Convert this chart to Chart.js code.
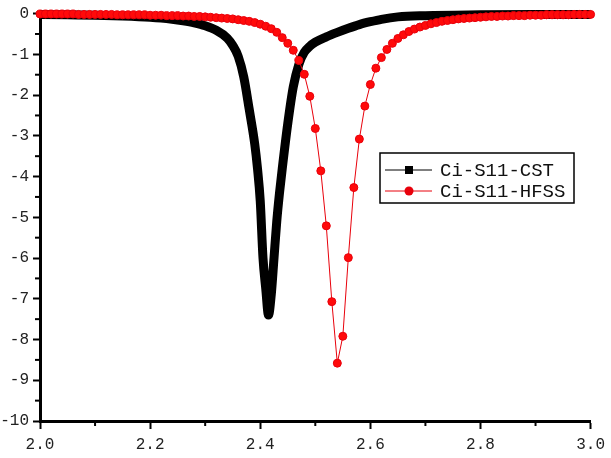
<!DOCTYPE html>
<html>
<head>
<meta charset="utf-8">
<script src="https://cdn.jsdelivr.net/npm/chart.js@4"></script>
<style>
    body { margin: 0; background: #fff; }
    #wrap { width: 611px; height: 458px; }
</style>
</head>
<body>
<div id="wrap"><canvas id="myChart" width="611" height="458"></canvas></div>
<script>
// CST curve (frequency in GHz, S11 in dB)
const cstFreq = [
    2.00, 2.05, 2.10, 2.15, 2.20, 2.22, 2.24, 2.26, 2.28, 2.30,
    2.32, 2.34, 2.35, 2.36, 2.37, 2.38, 2.39, 2.395, 2.40, 2.405,
    2.41, 2.415, 2.42, 2.425, 2.43, 2.435, 2.44, 2.45, 2.46, 2.47,
    2.48, 2.49, 2.50, 2.52, 2.54, 2.56, 2.58, 2.60, 2.62, 2.65,
    2.70, 2.80, 2.90, 3.00,
];
const cstS11 = [
    -0.02, -0.03, -0.04, -0.06, -0.09, -0.11, -0.14, -0.18, -0.23, -0.30,
    -0.41, -0.60, -0.78, -1.05, -1.55, -2.35, -3.20, -3.80, -4.60, -6.00,
    -6.75, -7.40, -6.90, -6.00, -5.10, -4.40, -3.80, -2.70, -1.80, -1.25,
    -0.95, -0.80, -0.70, -0.57, -0.46, -0.36, -0.27, -0.20, -0.14, -0.08,
    -0.05, -0.03, -0.02, -0.02,
];

// HFSS curve, one point every 10 MHz
const hfssFreq = [
    2.00, 2.01, 2.02, 2.03, 2.04, 2.05, 2.06, 2.07, 2.08, 2.09,
    2.10, 2.11, 2.12, 2.13, 2.14, 2.15, 2.16, 2.17, 2.18, 2.19,
    2.20, 2.21, 2.22, 2.23, 2.24, 2.25, 2.26, 2.27, 2.28, 2.29,
    2.30, 2.31, 2.32, 2.33, 2.34, 2.35, 2.36, 2.37, 2.38, 2.39,
    2.40, 2.41, 2.42, 2.43, 2.44, 2.45, 2.46, 2.47, 2.48, 2.49,
    2.50, 2.51, 2.52, 2.53, 2.54, 2.55, 2.56, 2.57, 2.58, 2.59,
    2.60, 2.61, 2.62, 2.63, 2.64, 2.65, 2.66, 2.67, 2.68, 2.69,
    2.70, 2.71, 2.72, 2.73, 2.74, 2.75, 2.76, 2.77, 2.78, 2.79,
    2.80, 2.81, 2.82, 2.83, 2.84, 2.85, 2.86, 2.87, 2.88, 2.89,
    2.90, 2.91, 2.92, 2.93, 2.94, 2.95, 2.96, 2.97, 2.98, 2.99,
    3.00,
];
const hfssS11 = [
    -0.01, -0.01, -0.01, -0.01, -0.01, -0.01, -0.01, -0.02, -0.02, -0.02,
    -0.02, -0.02, -0.02, -0.02, -0.03, -0.03, -0.03, -0.03, -0.03, -0.03,
    -0.04, -0.04, -0.04, -0.05, -0.05, -0.05, -0.06, -0.06, -0.07, -0.07,
    -0.08, -0.09, -0.10, -0.11, -0.12, -0.13, -0.15, -0.17, -0.19, -0.22,
    -0.26, -0.31, -0.37, -0.46, -0.59, -0.73, -0.90, -1.15, -1.49, -2.03,
    -2.82, -3.86, -5.21, -7.07, -8.58, -7.92, -5.99, -4.27, -3.08, -2.27,
    -1.74, -1.34, -1.08, -0.88, -0.73, -0.61, -0.52, -0.44, -0.38, -0.33,
    -0.29, -0.25, -0.22, -0.19, -0.17, -0.15, -0.13, -0.12, -0.11, -0.10,
    -0.09, -0.08, -0.07, -0.07, -0.06, -0.06, -0.05, -0.05, -0.05, -0.04,
    -0.04, -0.04, -0.03, -0.03, -0.03, -0.03, -0.03, -0.02, -0.02, -0.02,
    -0.02,
];

const xTicks = [2.0, 2.2, 2.4, 2.6, 2.8, 3.0];
const yTicks = [0, -1, -2, -3, -4, -5, -6, -7, -8, -9, -10];

const FONT = 'Liberation Mono';

const toPoints = (xs, ys) => xs.map((x, i) => ({ x: x, y: ys[i] }));

// minor ticks halfway between the labelled ones, drawn outward like the major ones
const minorTicks = {
    id: 'minorTicks',
    afterDraw(chart) {
        const ctx = chart.ctx;
        const xs = chart.scales.x;
        const ys = chart.scales.y;
        ctx.save();
        ctx.strokeStyle = '#000';
        ctx.lineWidth = 2;
        for (let i = 0; i < xTicks.length - 1; i++) {
            const px = xs.getPixelForValue((xTicks[i] + xTicks[i + 1]) / 2);
            ctx.beginPath();
            ctx.moveTo(px, xs.top);
            ctx.lineTo(px, xs.top + 5);
            ctx.stroke();
        }
        for (let i = 0; i < yTicks.length - 1; i++) {
            const py = ys.getPixelForValue((yTicks[i] + yTicks[i + 1]) / 2);
            ctx.beginPath();
            ctx.moveTo(ys.right, py);
            ctx.lineTo(ys.right - 5, py);
            ctx.stroke();
        }
        ctx.restore();
    },
};

// boxed legend inside the plot, line sample with marker
const boxLegend = {
    id: 'boxLegend',
    afterDraw(chart) {
        const ctx = chart.ctx;
        const left = 380, top = 153, w = 194, h = 50;
        ctx.save();
        ctx.fillStyle = '#fff';
        ctx.fillRect(left, top, w, h);
        ctx.strokeStyle = '#000';
        ctx.lineWidth = 1.5;
        ctx.strokeRect(left, top, w, h);

        const rows = [
            { ds: chart.data.datasets[0], y: 170, marker: 'rect' },
            { ds: chart.data.datasets[1], y: 191, marker: 'circle' },
        ];
        rows.forEach((row) => {
            ctx.strokeStyle = row.ds.legendColor;
            ctx.fillStyle = row.ds.legendColor;
            ctx.lineWidth = 1;
            ctx.beginPath();
            ctx.moveTo(385, row.y);
            ctx.lineTo(432, row.y);
            ctx.stroke();
            if (row.marker === 'rect') {
                ctx.fillRect(405, row.y - 4, 8, 8);
            } else {
                ctx.beginPath();
                ctx.arc(409, row.y, 4.5, 0, Math.PI * 2);
                ctx.fill();
            }
            ctx.fillStyle = '#111';
            ctx.font = `19px "${FONT}"`;
            ctx.textBaseline = 'middle';
            ctx.fillText(row.ds.label, 440, row.y + 1);
        });
        ctx.restore();
    },
};

const ctx = document.getElementById('myChart');
const chart = new Chart(ctx, {
    type: 'line',
    data: {
        datasets: [
            {
                label: 'Ci-S11-CST',
                data: toPoints(cstFreq, cstS11),
                borderColor: '#000',
                legendColor: '#000',
                borderWidth: 9,
                borderJoinStyle: 'round',
                pointRadius: 0,
                cubicInterpolationMode: 'monotone',
                clip: 10,
                order: 1,
            },
            {
                label: 'Ci-S11-HFSS',
                data: toPoints(hfssFreq, hfssS11),
                borderColor: '#e8000b',
                legendColor: '#e8000b',
                backgroundColor: '#ff0000',
                borderWidth: 1,
                pointRadius: 4,
                pointBorderWidth: 1,
                pointBorderColor: '#e8000b',
                pointBackgroundColor: '#ff0a0a',
                clip: 10,
                order: 0,
            },
        ],
    },
    options: {
        responsive: false,
        animation: false,
        devicePixelRatio: 1,
        layout: {
            padding: { top: 12, right: 11, left: 0, bottom: 0 },
        },
        plugins: {
            legend: { display: false },
            tooltip: { enabled: false },
        },
        scales: {
            x: {
                type: 'linear',
                min: 2.0,
                max: 3.0,
                afterFit: (scale) => { scale.height = 37; },
                afterBuildTicks: (scale) => {
                    scale.ticks = xTicks.map((v) => ({ value: v }));
                },
                ticks: {
                    color: '#222',
                    padding: 6,
                    font: { family: FONT, size: 16 },
                    callback: (v) => Number(v).toFixed(1),
                },
                grid: {
                    drawOnChartArea: false,
                    tickLength: 8,
                    tickWidth: 2,
                    tickColor: '#000',
                },
                border: { color: '#000', width: 3 },
            },
            y: {
                min: -10,
                max: 0,
                afterFit: (scale) => { scale.width = 40; },
                afterBuildTicks: (scale) => {
                    scale.ticks = yTicks.map((v) => ({ value: v }));
                },
                ticks: {
                    color: '#222',
                    padding: 4,
                    font: { family: FONT, size: 16 },
                    callback: (v) => String(v),
                },
                grid: {
                    drawOnChartArea: false,
                    tickLength: 7,
                    tickWidth: 2,
                    tickColor: '#000',
                },
                border: { color: '#000', width: 3 },
            },
        },
    },
    plugins: [minorTicks, boxLegend],
});
</script>
</body>
</html>
